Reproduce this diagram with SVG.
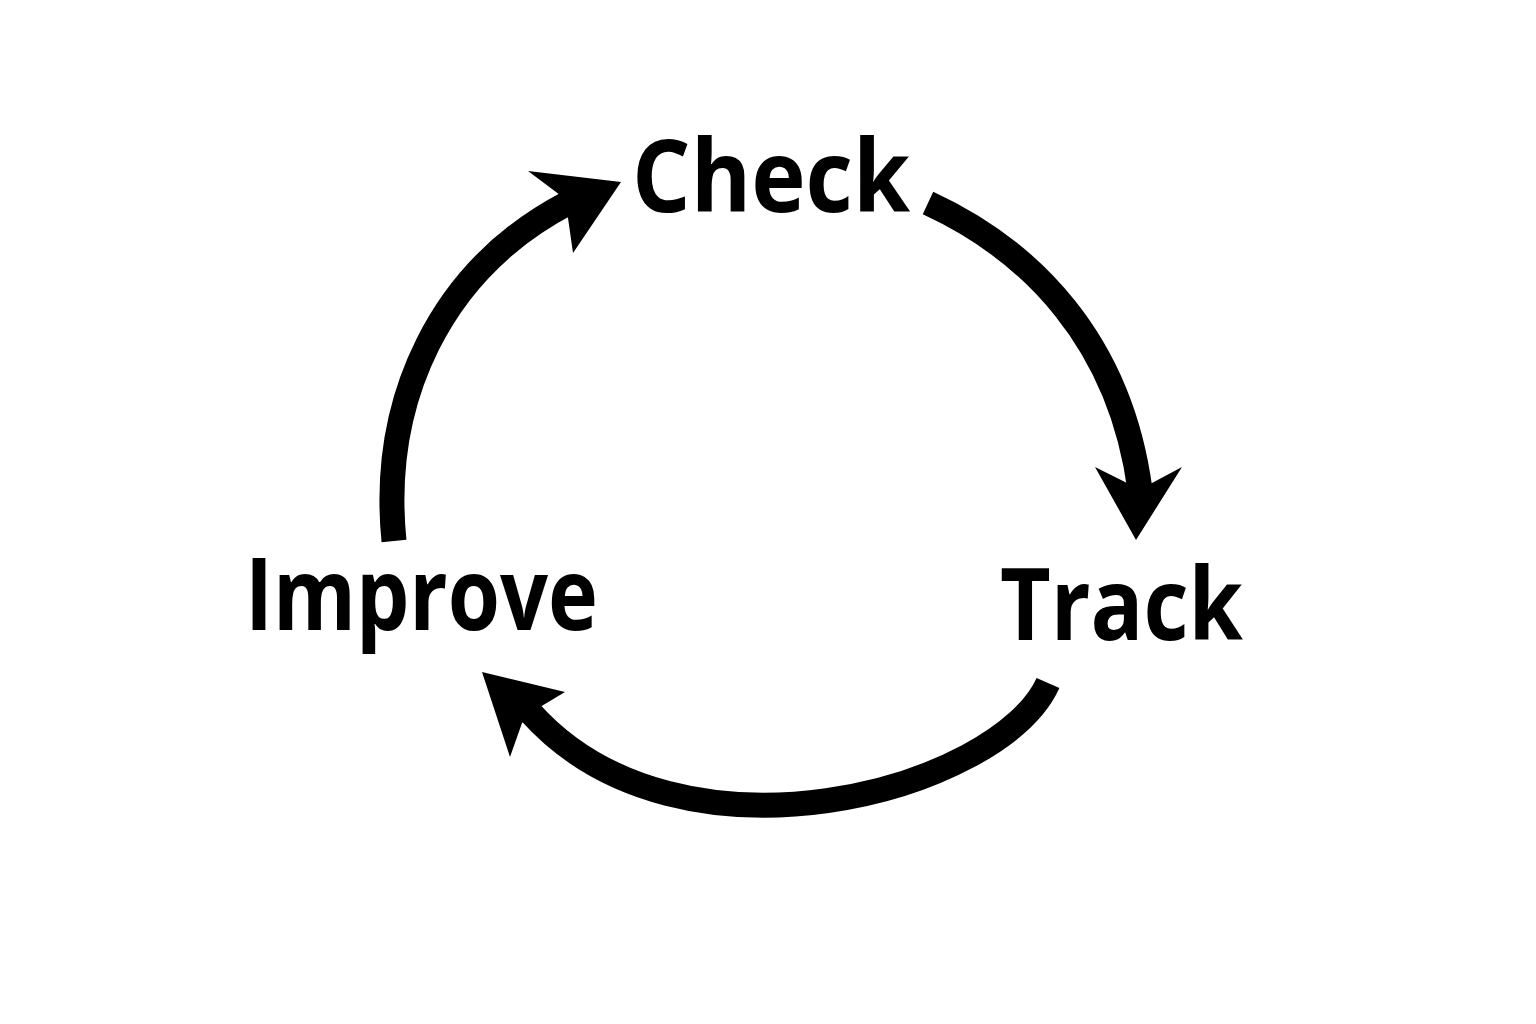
<svg xmlns="http://www.w3.org/2000/svg" width="1536" height="1024" viewBox="0 0 1536 1024">
<style>
.lbl{font-family:"Open Sans","Noto Sans",sans-serif;font-weight:700;font-size:100px;fill:#000}
.arc{fill:none;stroke:#000;stroke-width:25}
.head{fill:#000}
</style>
<rect width="1536" height="1024" fill="#fff"/>
<g id="connectors">
<path class="arc" d="M 394 541 C 380 400, 440 270, 568 203"/>
<polygon class="head" points="528,171 621,182 573,253 568,218 560,195"/>
<path class="arc" d="M 928 203 C 1030 250, 1120 340, 1140 490"/>
<polygon class="head" points="1095,467 1127,483 1152,483 1182,467 1136,540"/>
<path class="arc" d="M 1048 683 C 1000 790, 680 880, 530 712"/>
<polygon class="head" points="482,672 565,692 540,707 522,723 510,757"/>
</g>
<g id="node-check"><text class="lbl" x="632" y="212" textLength="278" lengthAdjust="spacingAndGlyphs">Check</text></g>
<g id="node-track"><text class="lbl" x="1000" y="640" textLength="243" lengthAdjust="spacingAndGlyphs">Track</text></g>
<g id="node-improve"><text class="lbl" x="245" y="630" textLength="353" lengthAdjust="spacingAndGlyphs">Improve</text></g>
</svg>
